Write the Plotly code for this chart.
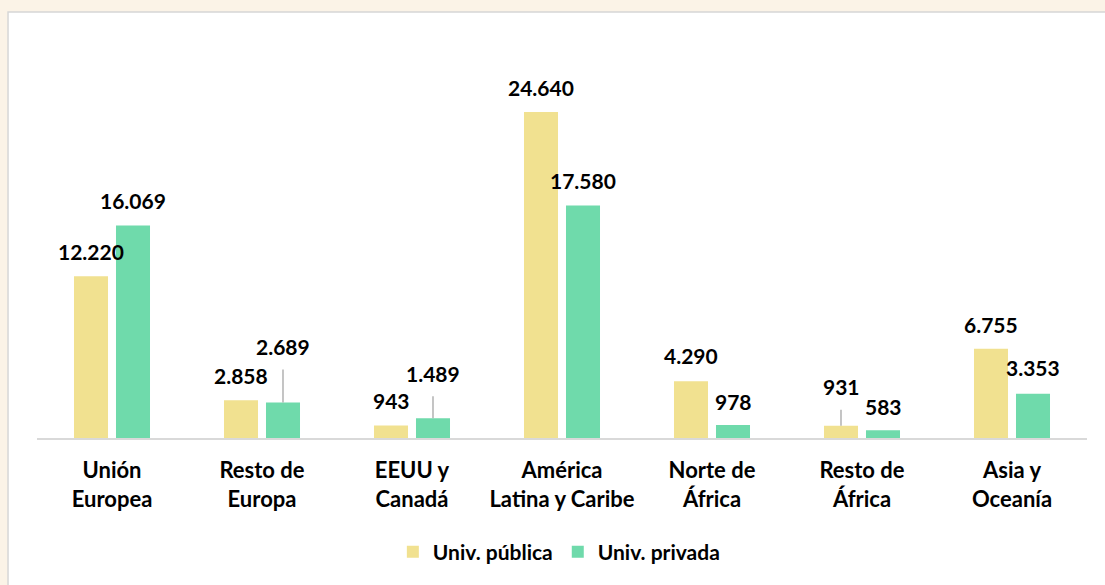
import plotly.graph_objects as go

categories = ["Unión<br>Europea", "Resto de<br>Europa", "EEUU y<br>Canadá", "América<br>Latina y Caribe",
              "Norte de<br>África", "Resto de<br>África", "Asia y<br>Oceanía"]
publica = [12220, 2858, 943, 24640, 4290, 931, 6755]
privada = [16069, 2689, 1489, 17580, 978, 583, 3353]
label_pub = ["12.220", "2.858", "943", "24.640", "4.290", "931", "6.755"]
label_priv = ["16.069", "2.689", "1.489", "17.580", "978", "583", "3.353"]

# label vertical offsets (px above bar top); leader lines where offset is large
shift_pub = [25, 25, 25, 25, 26, 39, 24]
shift_priv = [25, 56, 45, 25, 24, 24, 26]

YELLOW = "#F1E190"
GREEN = "#6FDAAB"
FONT = "Lato"
W = 700

xs = list(range(len(categories)))
off = 0.14

fig = go.Figure()
fig.add_trace(go.Bar(x=xs, y=publica, name="Univ. pública", marker_color=YELLOW,
                     marker_line_width=0, hoverinfo="skip"))
fig.add_trace(go.Bar(x=xs, y=privada, name="Univ. privada", marker_color=GREEN,
                     marker_line_width=0, hoverinfo="skip"))

annotations = []
for vals, labels, shifts, sign in [(publica, label_pub, shift_pub, -1), (privada, label_priv, shift_priv, 1)]:
    for i, (v, t, s) in enumerate(zip(vals, labels, shifts)):
        f = dict(family=FONT, size=21, color="#000000", weight=W)
        if s > 30:
            annotations.append(dict(x=i + sign * off, y=v, xref="x", yref="y", text=t,
                                    showarrow=True, arrowhead=0, arrowwidth=1.3, arrowcolor="#a6a6a6",
                                    ax=0, ay=-s, standoff=0, startstandoff=9, font=f))
        else:
            annotations.append(dict(x=i + sign * off, y=v, xref="x", yref="y", text=t,
                                    showarrow=False, yshift=s, yanchor="middle", font=f))

fig.update_layout(
    width=1105, height=585,
    margin=dict(l=37, r=18, t=40, b=147, autoexpand=False),
    paper_bgcolor="#fbf3e7",
    plot_bgcolor="rgba(0,0,0,0)",
    barmode="group", bargap=0.44, bargroupgap=0.19,
    font=dict(family=FONT, size=21, color="#000000"),
    showlegend=True,
    legend=dict(orientation="h", x=0.497, xanchor="center", y=-0.235, yanchor="top",
                bgcolor="rgba(0,0,0,0)",
                font=dict(family=FONT, size=21, color="#000000", weight=W),
                traceorder="normal"),
    annotations=annotations,
    shapes=[dict(type="rect", xref="paper", yref="paper", x0=-0.0276, x1=1.02, y0=-0.38, y1=1.0704,
                 fillcolor="white", line=dict(color="#d6d6d6", width=1.5), layer="below")],
)
fig.update_xaxes(range=[-0.5, 6.5], tickvals=xs, ticktext=categories,
                 showline=True, linecolor="#d9d9d9", linewidth=2, showgrid=False, zeroline=False,
                 ticks="", ticklabelstandoff=12,
                 tickfont=dict(family=FONT, size=22, color="#000000", weight=W),
                 fixedrange=True)
fig.update_yaxes(range=[0, 30083], visible=False, showgrid=False, zeroline=False, fixedrange=True)

fig.write_html("out.html", config={"displayModeBar": False},
               post_script="document.body.style.margin='0';")
